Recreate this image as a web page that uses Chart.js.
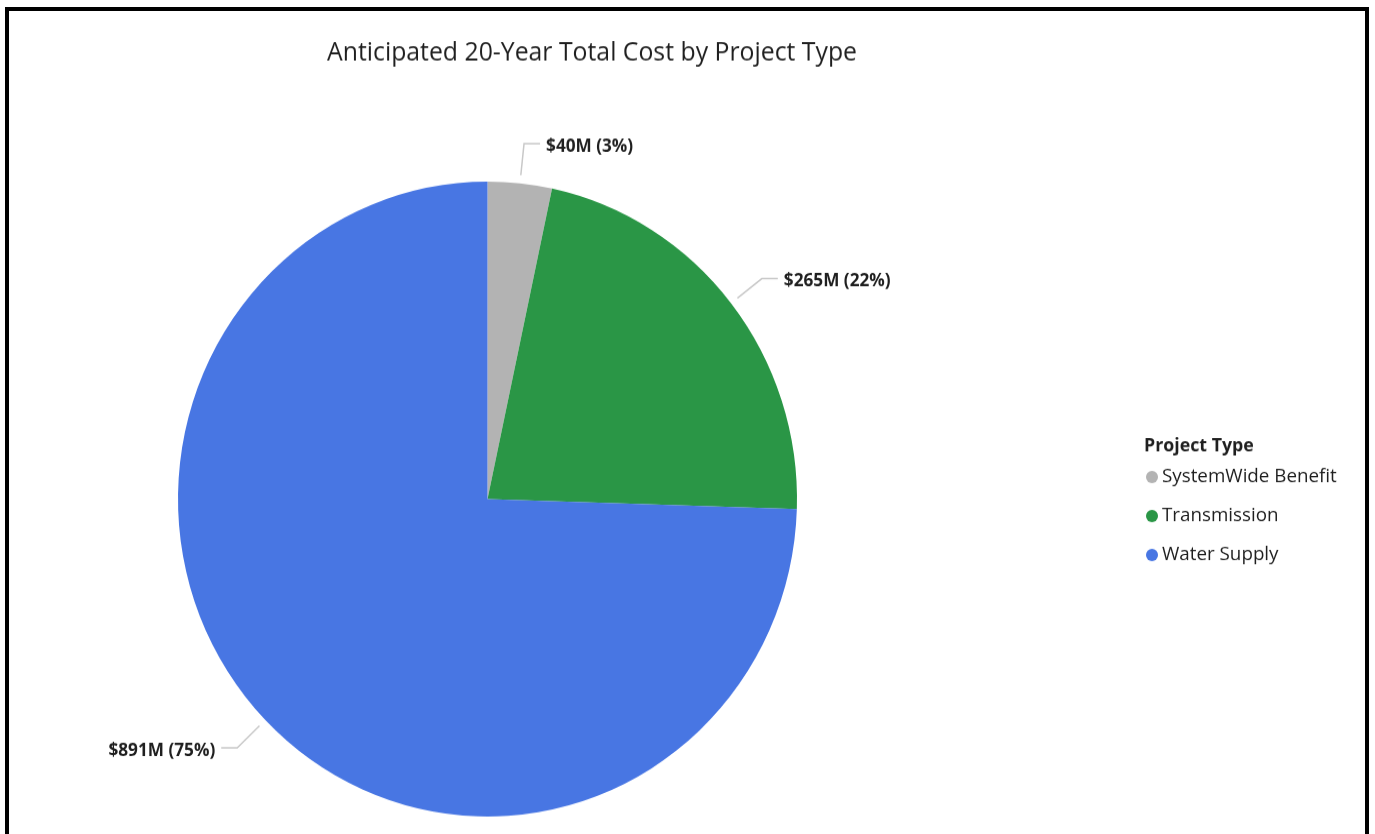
<!DOCTYPE html>
<html>
<head>
<meta charset="utf-8">
<script src="https://cdn.jsdelivr.net/npm/chart.js@4"></script>
<style>
    html, body { margin: 0; padding: 0; background: #fff; overflow: hidden; }
    #wrap { position: relative; width: 1375px; height: 834px; }
    /* la imagen original esta algo estirada en vertical */
    #graficoCosto { display: block; width: 1375px !important; height: 834px !important; }
    #frame {
        position: absolute; left: 5px; top: 7px; width: 1356px; height: 900px;
        border: 4px solid #000; pointer-events: none;
    }
</style>
</head>
<body>
<div id="wrap">
    <canvas id="graficoCosto" width="1375" height="813"></canvas>
    <div id="frame"></div>
</div>
<script>
const categorias = ['SystemWide Benefit', 'Transmission', 'Water Supply'];
const costos = [40, 265, 891];           // millones de dólares
const etiquetas = ['$40M (3%)', '$265M (22%)', '$891M (75%)'];
const colores = ['#B3B3B3', '#2A9646', '#4876E3'];
const titulo = 'Anticipated 20-Year Total Cost by Project Type';
const tituloLeyenda = 'Project Type';

const FUENTE = '"Segoe UI", "Open Sans", sans-serif';
const COLOR_TEXTO = '#1f1f1f';

// Dibuja titulo, lineas guia con etiquetas y la leyenda
const extras = {
    id: 'extras',
    afterDraw(chart) {
        const ctx = chart.ctx;
        ctx.save();

        // titulo
        ctx.fillStyle = COLOR_TEXTO;
        ctx.font = '24.8px ' + FUENTE;
        ctx.textAlign = 'center';
        ctx.textBaseline = 'middle';
        ctx.fillText(titulo, 592, 52);

        // etiquetas de datos
        const arcs = chart.getDatasetMeta(0).data;
        arcs.forEach(function(arc, i) {
            const p = arc.getProps(['x', 'y', 'startAngle', 'endAngle', 'outerRadius'], true);
            const mid = (p.startAngle + p.endAngle) / 2;
            const r1 = p.outerRadius + 8;
            const r2 = p.outerRadius + 39;
            const x1 = p.x + Math.cos(mid) * r1, y1 = p.y + Math.sin(mid) * r1;
            const x2 = p.x + Math.cos(mid) * r2, y2 = p.y + Math.sin(mid) * r2;
            const dir = Math.cos(mid) >= 0 ? 1 : -1;
            const x3 = x2 + dir * 16;

            ctx.strokeStyle = '#C8C8C8';
            ctx.lineWidth = 1.5;
            ctx.beginPath();
            ctx.moveTo(x1, y1);
            ctx.lineTo(x2, y2);
            ctx.lineTo(x3, y2);
            ctx.stroke();

            ctx.fillStyle = COLOR_TEXTO;
            ctx.font = 'bold 17.2px ' + FUENTE;
            ctx.textAlign = dir > 0 ? 'left' : 'right';
            ctx.textBaseline = 'middle';
            ctx.fillText(etiquetas[i], x3 + dir * 6, y2 + 3);
        });

        // leyenda
        ctx.textAlign = 'left';
        ctx.textBaseline = 'middle';
        ctx.fillStyle = COLOR_TEXTO;
        ctx.font = 'bold 17.8px ' + FUENTE;
        ctx.fillText(tituloLeyenda, 1144, 434.5);
        ctx.font = '18.8px ' + FUENTE;
        chart.data.labels.forEach(function(label, i) {
            const y = 465 + i * 38;
            ctx.fillStyle = chart.data.datasets[0].backgroundColor[i];
            ctx.beginPath();
            ctx.arc(1152, y, 6, 0, Math.PI * 2);
            ctx.fill();
            ctx.fillStyle = COLOR_TEXTO;
            ctx.fillText(label, 1162, y);
        });

        ctx.restore();
    }
};

const ctx = document.getElementById('graficoCosto').getContext('2d');
const chart = new Chart(ctx, {
    type: 'pie',
    data: {
        labels: categorias,
        datasets: [{
            data: costos,
            backgroundColor: colores,
            borderWidth: 0
        }]
    },
    options: {
        responsive: false,
        animation: false,
        layout: {
            padding: { left: 178, right: 578, top: 177, bottom: 17 }
        },
        plugins: {
            legend: { display: false },
            title: { display: false },
            tooltip: { enabled: false }
        }
    },
    plugins: [extras]
});
</script>
</body>
</html>
